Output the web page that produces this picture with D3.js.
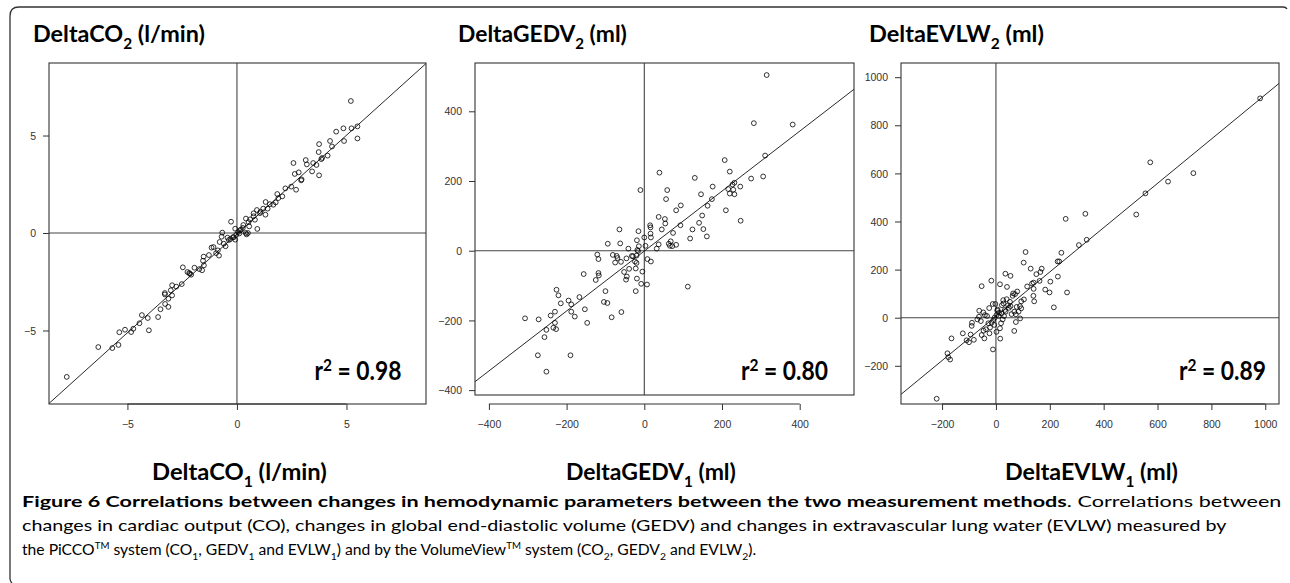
<!DOCTYPE html>
<html><head><meta charset="utf-8">
<script src="https://cdn.jsdelivr.net/npm/d3@7"></script>
<style>body{margin:0;background:#fff} svg{display:block}</style>
</head><body><svg id="c" width="1290" height="583"></svg>
<script>
// ---------- DATA ----------
const co1 = [5.20,4.86,5.23,5.50,5.50,4.53,4.89,4.25,4.34,3.75,3.73,4.14,3.85,3.89,3.14,3.19,3.48,3.63,3.43,3.75,2.58,2.64,2.82,2.93,2.48,2.70,2.21,2.07,1.84,1.89,1.77,1.66,1.31,1.40,1.20,0.91,1.08,1.30,0.76,0.76,0.82,0.41,0.53,0.56,0.93,0.50,0.27,0.14,-0.08,0.11,-0.15,-0.08,-0.27,-0.67,-0.70,-0.43,-0.30,-0.52,-0.79,-1.07,-1.16,-0.95,-0.82,-1.28,-1.52,-1.51,-1.94,-1.72,-1.59,-2.47,-2.26,-2.09,-2.18,-2.52,-2.77,-2.96,-3.02,-3.29,-2.96,-3.13,-3.49,-3.28,-3.13,-3.60,-4.07,-4.34,-4.45,-4.02,-4.73,-4.83,-5.11,-5.37,-5.41,-5.69,-6.33,-7.77,0.40,0.44,0.29,-0.18,-0.03,0.18,-0.37,-0.87,-1.55,-2.15,-3.29,0.60,1.05,1.50,2.95,0.05,-0.60];
const co2 = [6.77,5.37,5.37,5.47,4.85,5.20,4.72,4.72,4.44,4.56,4.15,3.97,3.79,3.85,3.74,3.52,3.59,3.49,3.16,2.96,3.59,3.03,3.11,2.70,2.38,2.22,2.29,1.88,2.00,1.79,1.57,1.45,1.59,1.25,1.25,1.18,1.09,0.94,1.01,0.86,0.68,0.74,0.56,0.34,0.21,0.00,0.26,0.14,0.22,-0.02,-0.22,-0.34,0.58,0.02,-0.19,-0.24,-0.31,-0.68,-0.46,-0.72,-0.75,-1.03,-1.16,-1.13,-1.21,-1.66,-1.78,-1.85,-1.91,-1.76,-2.00,-2.14,-2.05,-2.62,-2.75,-2.68,-2.94,-3.15,-3.20,-3.37,-3.91,-3.64,-3.79,-4.31,-4.36,-4.21,-4.63,-4.99,-4.91,-5.08,-4.96,-5.09,-5.74,-5.90,-5.85,-7.38,0.00,-0.07,0.41,-0.21,-0.09,0.17,-0.36,-0.89,-1.42,-2.09,-3.08,0.70,1.02,1.48,2.75,0.05,-0.55];

const gedv1 = [315,282,382,311,306,275,207,220,176,247,232,227,229,216,220,232,174,210,248,163,146,130,149,141,152,161,124,118,94,82,93,39,59,56,53,54,37,45,74,63,68,72,82,66,37,32,15,16,16,17,0,3,17,8,-5,7,-8,112,-10,-15,-19,-14,-18,-16,-20,-29,-24,-20,-22,-19,-22,-39,-32,-41,-46,-47,-45,-52,-62,-64,-60,-69,-75,-71,-81,-94,-59,-84,-100,-104,-95,-125,-118,-117,-118,-121,-156,-167,-153,-147,-179,-195,-188,-188,-190,-226,-221,-215,-230,-241,-230,-234,-227,-252,-257,-272,-307,-274,-252];
const gedv2 = [504,366,362,273,213,207,260,227,184,184,195,190,175,177,164,162,148,116,86,129,162,209,101,80,62,41,61,35,130,116,73,224,174,148,91,78,97,61,51,20,27,13,17,14,18,6,73,67,49,38,38,14,-31,-24,-60,-97,-95,-103,174,56,30,13,2,-1,-14,-16,-31,-35,-51,-80,-116,-52,-15,6,-22,-83,-74,-61,21,61,-32,-21,-34,-15,-12,20,-176,-191,-116,-147,-150,-84,-64,-71,-24,-11,-67,-133,-168,-207,-189,-143,-154,-175,-300,-112,-128,-151,-175,-186,-207,-221,-225,-227,-248,-197,-194,-300,-347];

const evlw1 = [981,573,555,639,733,521,332,259,337,308,243,229,235,230,264,202,199,183,215,170,165,162,129,150,110,103,140,134,140,139,142,116,79,64,71,104,94,89,84,74,90,74,68,54,35,41,15,-17,-53,52,54,48,28,36,30,25,19,15,16,5,-2,-12,2,-5,-10,-16,-22,-28,-25,-11,-41,-47,-62,-56,-69,-37,-46,-43,-53,-89,-90,-94,-82,-109,-100,-123,-165,-180,-177,-170,-220,33,45,58,68,21,10,6,40,62,94,77,27,22,12,-6,2,-63,-33,-24];
const evlw2 = [912,646,517,566,601,429,432,411,324,302,270,234,234,171,105,150,105,117,43,204,190,153,204,181,273,229,146,142,120,91,68,130,109,101,98,76,68,48,25,14,-3,-18,-55,174,183,128,139,154,131,66,48,41,59,25,7,-7,-23,-44,-87,29,57,57,11,0,-10,-21,-41,-23,40,-132,11,22,29,-14,-7,-48,-54,-86,-72,-21,-34,-70,-92,-94,-102,-65,-86,-148,-164,-174,-337,32,52,15,25,18,7,34,77,91,39,45,73,52,21,-30,-59,4,7,-65];

const coTicks = [-5, 0, 5];
const gedvTicks = [-400, -200, 0, 200, 400];
const evlwTicks = [-200, 0, 200, 400, 600, 800, 1000];

// regression line [slope, intercept]
const fitCO = [1.013, -0.05];
const fitGEDV = [0.86, -1];
const fitEVLW = [0.921, 6];

const r2Labels = ["0.98", "0.80", "0.89"];

// ---------- DRAW ----------
const svg = d3.select("#c");
const TFONT = "Lato, 'Open Sans', sans-serif";
const AFONT = "'Liberation Sans', Arial, sans-serif";

// outer rounded frame
svg.append("path")
  .attr("d", "M10,579 Q10.5,582 12,583 M10,579 L10,16 Q10,7 19,7 L1283,7 Q1286,7 1287,9")
  .attr("fill", "none").attr("stroke", "#333").attr("stroke-width", 1.3);

function rich(parent, parts, size, weight) {
  const t = parent.append("text")
    .attr("font-family", TFONT).attr("font-size", size)
    .attr("font-weight", weight).attr("fill", "#000");
  let shift = 0;
  parts.forEach(p => {
    const [txt, type] = p;
    let target = 0, fs = size;
    if (type === "sub") { target = size * 0.32; fs = size * 0.66; }
    if (type === "sup") { target = -size * 0.42; fs = size * 0.62; }
    if (type === "sup2") { target = -size * 0.36; fs = size * 0.68; }
    const ts = t.append("tspan").text(txt).attr("font-size", fs);
    if (type && type.startsWith("b")) ts.attr("font-weight", 700);
    if (target !== shift) { ts.attr("dy", target - shift); shift = target; }
  });
  return t;
}
function fit(t, x, y, w) {
  const bb = t.node().getBBox();
  const k = w / bb.width;
  t.attr("transform", `translate(${x - bb.x * k},${y}) scale(${k},1)`);
}

const panels = [
  { x: co1, y: co2, xDom: [-8.58, 8.63], yDom: [-8.77, 8.72], xR: [49, 426], yR: [404, 63],
    ticks: coTicks, fit: fitCO, r2: r2Labels[0],
    title: [["DeltaCO"], ["2", "sub"], [" (l/min)"]], titleX: 33, titleW: 172,
    xlab: [["DeltaCO"], ["1", "sub"], [" (l/min)"]], xlabX: 152, xlabW: 175,
    r2Right: 401.5, axisY: 404 },
  { x: gedv1, y: gedv2, xDom: [-435.8, 539.8], yDom: [-414, 538.6], xR: [475, 854], yR: [395, 63],
    ticks: gedvTicks, fit: fitGEDV, r2: r2Labels[1],
    title: [["DeltaGEDV"], ["2", "sub"], [" (ml)"]], titleX: 458, titleW: 169,
    xlab: [["DeltaGEDV"], ["1", "sub"], [" (ml)"]], xlabX: 566, xlabW: 170,
    r2Right: 828, axisY: 404 },
  { x: evlw1, y: evlw2, xDom: [-352.5, 1051], yDom: [-358.8, 1059], xR: [901, 1279], yR: [404, 63],
    ticks: evlwTicks, fit: fitEVLW, r2: r2Labels[2],
    title: [["DeltaEVLW"], ["2", "sub"], [" (ml)"]], titleX: 869, titleW: 175,
    xlab: [["DeltaEVLW"], ["1", "sub"], [" (ml)"]], xlabX: 1005, xlabW: 173,
    r2Right: 1266, axisY: 404 }
];

panels.forEach((p, i) => {
  const xs = d3.scaleLinear().domain(p.xDom).range(p.xR);
  const ys = d3.scaleLinear().domain(p.yDom).range(p.yR);
  const g = svg.append("g");
  const cid = "clip" + i;
  svg.append("clipPath").attr("id", cid).append("rect")
    .attr("x", p.xR[0]).attr("y", p.yR[1])
    .attr("width", p.xR[1] - p.xR[0]).attr("height", p.yR[0] - p.yR[1]);
  const pg = g.append("g").attr("clip-path", `url(#${cid})`);
  // zero lines
  pg.append("line").attr("x1", xs(0)).attr("x2", xs(0)).attr("y1", p.yR[1]).attr("y2", p.yR[0])
    .attr("stroke", "#444").attr("stroke-width", 1.1);
  pg.append("line").attr("x1", p.xR[0]).attr("x2", p.xR[1]).attr("y1", ys(0)).attr("y2", ys(0))
    .attr("stroke", "#444").attr("stroke-width", 1.1);
  // regression line
  const [m, b] = p.fit;
  pg.append("line")
    .attr("x1", xs(p.xDom[0])).attr("y1", ys(m * p.xDom[0] + b))
    .attr("x2", xs(p.xDom[1])).attr("y2", ys(m * p.xDom[1] + b))
    .attr("stroke", "#111").attr("stroke-width", 0.9);
  // points
  pg.selectAll("circle").data(d3.range(p.x.length)).join("circle")
    .attr("cx", j => xs(p.x[j])).attr("cy", j => ys(p.y[j])).attr("r", 2.4)
    .attr("fill", "none").attr("stroke", "#000").attr("stroke-width", 0.8);
  // box
  g.append("rect").attr("x", p.xR[0]).attr("y", p.yR[1])
    .attr("width", p.xR[1] - p.xR[0]).attr("height", p.yR[0] - p.yR[1])
    .attr("fill", "none").attr("stroke", "#333").attr("stroke-width", 1.1);
  // x axis
  const xa = g.append("g").attr("transform", `translate(0,${p.axisY})`)
    .call(d3.axisBottom(xs).tickValues(p.ticks).tickSize(6).tickSizeOuter(0).tickFormat(d3.format("d")));
  xa.select(".domain").remove();
  xa.append("line").attr("x1", xs(p.ticks[0])).attr("x2", xs(p.ticks[p.ticks.length - 1]))
    .attr("y1", 0).attr("y2", 0).attr("stroke", "#333").attr("stroke-width", 1.2);
  xa.selectAll(".tick line").attr("stroke", "#333");
  xa.selectAll(".tick text").attr("y", 0).attr("dy", 24)
    .attr("font-family", AFONT).attr("font-size", 10.5).attr("fill", "#333");
  // y axis
  const ya = g.append("g").attr("transform", `translate(${p.xR[0]},0)`)
    .call(d3.axisLeft(ys).tickValues(p.ticks).tickSize(6).tickSizeOuter(0).tickFormat(d3.format("d")));
  ya.select(".domain").remove();
  ya.selectAll(".tick line").attr("stroke", "#333");
  ya.selectAll(".tick text").attr("x", -13).attr("dy", "0.35em")
    .attr("font-family", AFONT).attr("font-size", 10.5).attr("fill", "#333");
  // title
  const tt = rich(svg, p.title, 22, 700);
  fit(tt, p.titleX, 41.5, p.titleW);
  const xl = rich(svg, p.xlab, 22, 700);
  fit(xl, p.xlabX, 480, p.xlabW);
  // r2
  const rt = rich(svg, [["r"], ["2", "sup2"], [" = " + p.r2]], 26, 700);
  fit(rt, p.r2Right - 87, 380, 87);
});

// caption
const c1 = rich(svg, [["Figure 6 Correlations between changes in hemodynamic parameters between the two measurement methods", "b"], [". Correlations between"]], 15, 400);
fit(c1, 22, 507, 1260);
const c2 = rich(svg, [["changes in cardiac output (CO), changes in global end-diastolic volume (GEDV) and changes in extravascular lung water (EVLW) measured by"]], 15, 400);
fit(c2, 22, 531, 1205);
const c3 = rich(svg, [["the PiCCO"], ["TM", "sup"], [" system (CO"], ["1", "sub"], [", GEDV"], ["1", "sub"], [" and EVLW"], ["1", "sub"],
  [") and by the VolumeView"], ["TM", "sup"], [" system (CO"], ["2", "sub"], [", GEDV"], ["2", "sub"], [" and EVLW"], ["2", "sub"], [")."]], 15, 400);
fit(c3, 22, 555, 735);
</script></body></html>
